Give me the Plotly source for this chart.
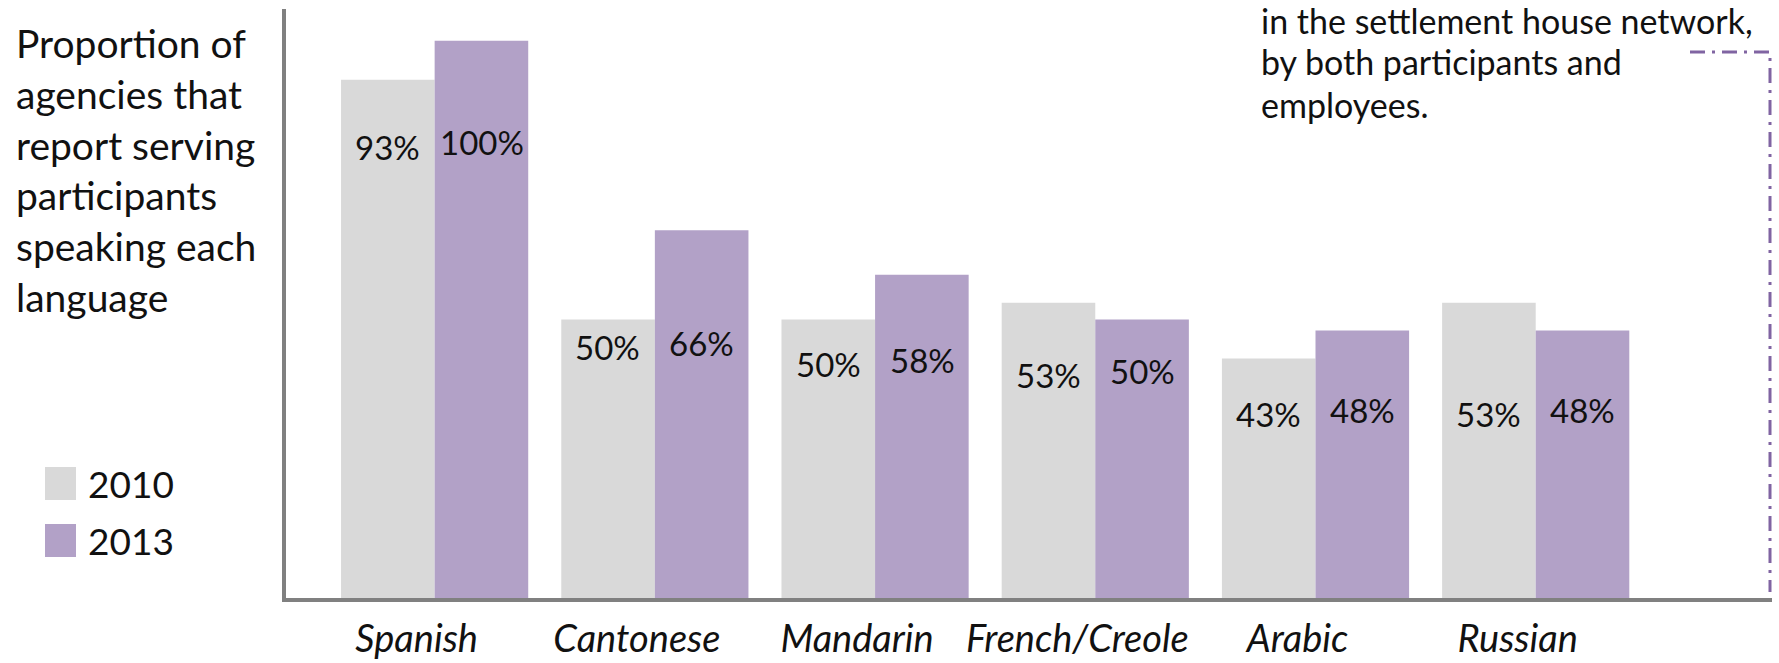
import plotly.graph_objects as go

# ---- data ----
languages = ["Spanish", "Cantonese", "Mandarin", "French/Creole", "Arabic", "Russian"]
pct_2010 = [93, 50, 50, 53, 43, 53]
pct_2013 = [100, 66, 58, 50, 48, 48]
series_names = ["2010", "2013"]
axis_title_lines = ["Proportion of", "agencies that", "report serving",
                    "participants", "speaking each", "language"]
note_lines = ["in the settlement house network,", "by both participants and", "employees."]

# ---- layout geometry (pixels) ----
W, H = 1779, 663
L, R, T, B = 286, 1772, 9, 598
label_levels = [81, 45, 42, 40, 33, 33]   # vertical placement of value labels (axis units)


def px(xp):
    return (xp - L) / (R - L)


def py(yp):
    return (B - yp) / (B - T)


C2010 = "#d9d9d9"
C2013 = "#b2a1c7"
AXIS = "#808080"
ACCENT = "#8064a2"
FONT = "Lato"
INK = "#111111"

fig = go.Figure()
fig.add_bar(x=languages, y=pct_2010, name=series_names[0], marker_color=C2010,
            marker_line_width=0, showlegend=False)
fig.add_bar(x=languages, y=pct_2013, name=series_names[1], marker_color=C2013,
            marker_line_width=0, showlegend=False)

annotations = []
# value labels
for i, lang in enumerate(languages):
    for v, shift, dy in ((pct_2010[i], -47, 0), (pct_2013[i], 47, 0.8)):
        annotations.append(dict(x=lang, y=label_levels[i] + dy, xref="x", yref="y", xshift=shift,
                                text=f"{v}%", showarrow=False,
                                font=dict(family=FONT, size=33, color=INK),
                                xanchor="center", yanchor="middle"))

# left descriptive text
title_y = [43, 94, 145, 195, 246, 297]
for line, yy in zip(axis_title_lines, title_y):
    annotations.append(dict(x=px(14), y=py(yy), xref="paper", yref="paper", text=line,
                            showarrow=False, xanchor="left", yanchor="middle",
                            font=dict(family=FONT, size=39, color=INK)))

# top-right note
note_y = [21, 62, 105]
for line, yy in zip(note_lines, note_y):
    annotations.append(dict(x=px(1259), y=py(yy), xref="paper", yref="paper", text=line,
                            showarrow=False, xanchor="left", yanchor="middle",
                            font=dict(family=FONT, size=34, color=INK)))

# legend (custom)
shapes = []
leg = [(series_names[0], C2010, 467, 500), (series_names[1], C2013, 524, 557)]
for name, col, y0, y1 in leg:
    shapes.append(dict(type="rect", xref="paper", yref="paper",
                       x0=px(45), x1=px(76), y0=py(y1), y1=py(y0),
                       fillcolor=col, line=dict(width=0)))
    annotations.append(dict(x=px(86), y=py((y0 + y1) / 2), xref="paper", yref="paper",
                            text=name, showarrow=False, xanchor="left", yanchor="middle",
                            font=dict(family=FONT, size=37, color=INK)))

# dash-dot bracket on the right
dash = "15px,7px,3px,7px"
shapes.append(dict(type="path", xref="paper", yref="paper",
                   path=f"M {px(1690)},{py(52)} L {px(1770)},{py(52)} L {px(1770)},{py(592)}",
                   line=dict(color=ACCENT, width=3, dash=dash)))

fig.update_layout(
    width=W, height=H,
    margin=dict(l=L, r=W - R, t=T, b=H - B, pad=0, autoexpand=False),
    paper_bgcolor="white", plot_bgcolor="white",
    barmode="group", bargap=0.15, bargroupgap=0,
    annotations=annotations, shapes=shapes,
    showlegend=False,
    font=dict(family=FONT, color=INK),
)
fig.update_xaxes(range=[-0.675, 6.073], showline=True, linecolor=AXIS, linewidth=4,
                 showgrid=False, zeroline=False, ticks="", automargin=False,
                 tickfont=dict(family=FONT, size=38, style="italic", color=INK),
                 ticklabelshift=-18, ticklabelstandoff=4)
fig.update_yaxes(range=[0, 105.7], showline=True, linecolor=AXIS, linewidth=4,
                 showgrid=False, zeroline=False, showticklabels=False, ticks="",
                 automargin=False)

fig.write_html("out.html", config={"displayModeBar": False},
               post_script="document.body.style.margin='0';")
